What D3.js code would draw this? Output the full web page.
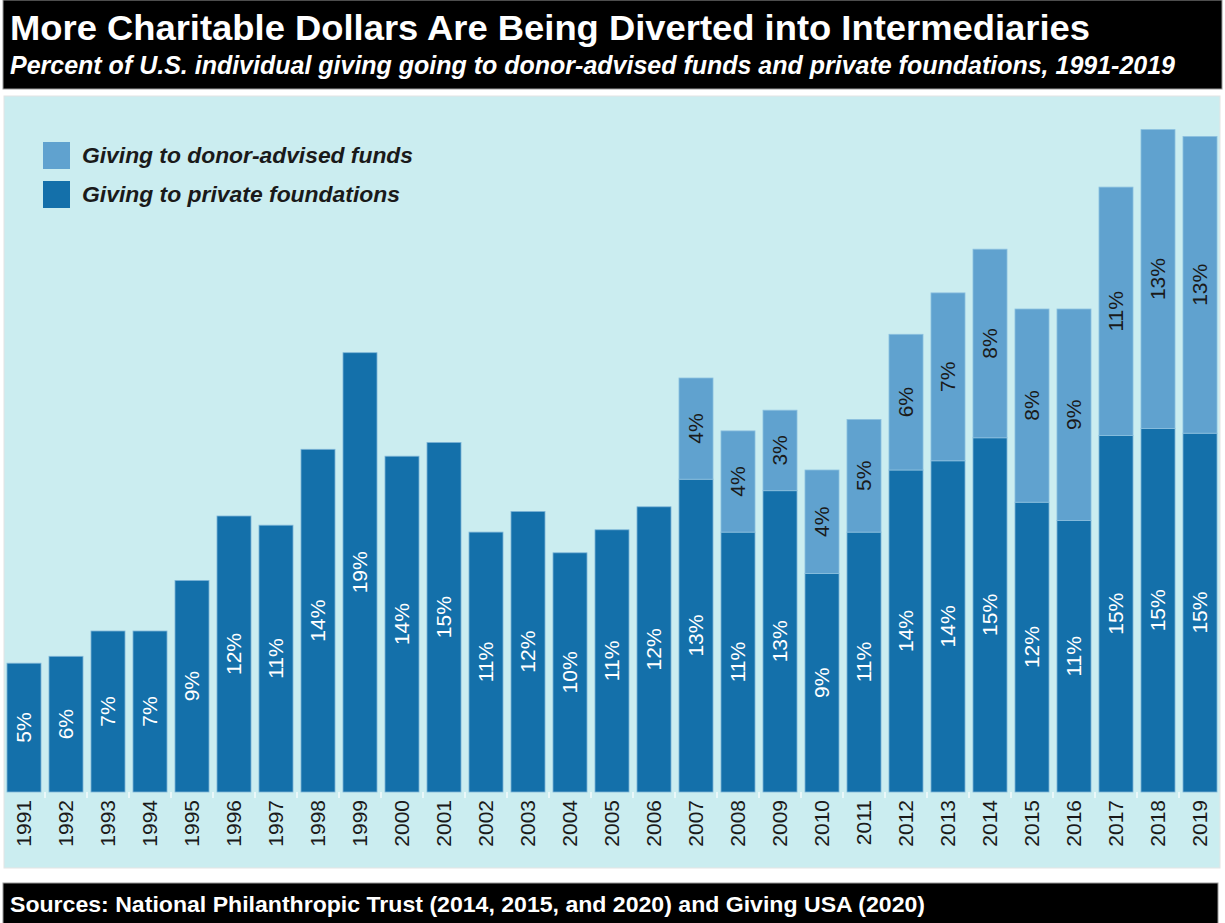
<!DOCTYPE html>
<html lang="en">
<head>
<meta charset="UTF-8">
<title>More Charitable Dollars Are Being Diverted into Intermediaries</title>
<script src="https://cdnjs.cloudflare.com/ajax/libs/d3/7.8.5/d3.min.js"></script>
<style>
  body { margin: 0; background: #fff; font-family: "Liberation Sans", Arial, sans-serif; }
  svg { display: block; }
</style>
</head>
<body>
<div id="chart"></div>
<script>
  // data (percent of individual giving)
  const years = ["1991","1992","1993","1994","1995","1996","1997","1998","1999","2000",
    "2001","2002","2003","2004","2005","2006","2007","2008","2009","2010",
    "2011","2012","2013","2014","2015","2016","2017","2018","2019"];
  const foundations = [5.6, 5.9, 7.0, 7.0, 9.2, 12.0, 11.6, 14.9, 19.1, 14.6,
    15.2, 11.3, 12.2, 10.4, 11.4, 12.4, 13.6, 11.3, 13.1, 9.5,
    11.3, 14.0, 14.4, 15.4, 12.6, 11.8, 15.5, 15.8, 15.6];
  const dafs = [0, 0, 0, 0, 0, 0, 0, 0, 0, 0,
    0, 0, 0, 0, 0, 0, 4.4, 4.4, 3.5, 4.5,
    4.9, 5.9, 7.3, 8.2, 8.4, 9.2, 10.8, 13.0, 12.9];
  const foundationLabels = ["5%","6%","7%","7%","9%","12%","11%","14%","19%","14%",
    "15%","11%","12%","10%","11%","12%","13%","11%","13%","9%",
    "11%","14%","14%","15%","12%","11%","15%","15%","15%"];
  const dafLabels = ["","","","","","","","","","",
    "","","","","","","4%","4%","3%","4%",
    "5%","6%","7%","8%","8%","9%","11%","13%","13%"];
  const seriesNames = ["Giving to donor-advised funds", "Giving to private foundations"];

  const W = 1225, H = 923;
  const colFound = "#1470aa", colDaf = "#60a2cf", panelBg = "#cbedf0";

  const svg = d3.select("#chart").append("svg")
    .attr("width", W).attr("height", H);

  // title block
  svg.append("rect").attr("x", 3).attr("y", 0).attr("width", 1219).attr("height", 89)
    .attr("fill", "#000").attr("stroke", "#999").attr("stroke-width", 1);
  svg.append("text").attr("x", 10).attr("y", 40)
    .attr("fill", "#fff").attr("font-size", 35).attr("font-weight", "bold")
    .attr("textLength", 1080).attr("lengthAdjust", "spacingAndGlyphs")
    .text("More Charitable Dollars Are Being Diverted into Intermediaries");
  svg.append("text").attr("x", 10).attr("y", 74)
    .attr("fill", "#fff").attr("font-size", 25).attr("font-weight", "bold").attr("font-style", "italic")
    .attr("textLength", 1165).attr("lengthAdjust", "spacingAndGlyphs")
    .text("Percent of U.S. individual giving going to donor-advised funds and private foundations, 1991-2019");

  // chart panel
  svg.append("rect").attr("x", 4).attr("y", 96).attr("width", 1216).attr("height", 772)
    .attr("fill", panelBg).attr("stroke", "#e4e4e4").attr("stroke-width", 1);

  const baseY = 792;
  const x = d3.scaleBand().domain(years).range([3, 1221]).paddingInner(0.19).paddingOuter(0.095);
  const y = d3.scaleLinear().domain([0, 30]).range([baseY, baseY - 690]);

  const rows = years.map((yr, i) => ({
    year: yr, pf: foundations[i], daf: dafs[i],
    pfLabel: foundationLabels[i], dafLabel: dafLabels[i]
  }));

  const g = svg.append("g");

  // private foundations (bottom segment)
  g.selectAll(".pf").data(rows).join("rect")
    .attr("class", "pf")
    .attr("x", d => x(d.year)).attr("width", x.bandwidth())
    .attr("y", d => y(d.pf)).attr("height", d => y(0) - y(d.pf))
    .attr("fill", colFound).attr("stroke", "#7fb6d8").attr("stroke-width", 0.8);

  // donor-advised funds (top segment)
  g.selectAll(".daf").data(rows.filter(d => d.daf > 0)).join("rect")
    .attr("class", "daf")
    .attr("x", d => x(d.year)).attr("width", x.bandwidth())
    .attr("y", d => y(d.pf + d.daf)).attr("height", d => y(d.pf) - y(d.pf + d.daf))
    .attr("fill", colDaf).attr("stroke", "#8cc0df").attr("stroke-width", 0.8);

  // value labels, rotated
  g.selectAll(".pfLab").data(rows).join("text")
    .attr("class", "pfLab")
    .attr("transform", d => `translate(${x(d.year) + x.bandwidth() / 2},${(y(0) + y(d.pf)) / 2}) rotate(-90)`)
    .attr("text-anchor", "middle").attr("dy", "0.35em")
    .attr("fill", "#fff").attr("font-size", 21)
    .text(d => d.pfLabel);

  g.selectAll(".dafLab").data(rows.filter(d => d.daf > 0)).join("text")
    .attr("class", "dafLab")
    .attr("transform", d => `translate(${x(d.year) + x.bandwidth() / 2},${(y(d.pf) + y(d.pf + d.daf)) / 2}) rotate(-90)`)
    .attr("text-anchor", "middle").attr("dy", "0.35em")
    .attr("fill", "#1a1a1a").attr("font-size", 21)
    .text(d => d.dafLabel);

  // x axis
  const xAxis = svg.append("g").attr("transform", `translate(0,${baseY})`)
    .call(d3.axisBottom(x).tickSize(0).tickPadding(0));
  xAxis.select(".domain").remove();
  xAxis.selectAll("text")
    .attr("transform", "translate(0,8) rotate(-90)")
    .attr("text-anchor", "end").attr("dy", "0.35em").attr("x", 0).attr("y", 0)
    .attr("fill", "#1a1a1a").attr("font-size", 21)
    .attr("font-family", "'Liberation Sans', Arial, sans-serif");

  // separator ticks between categories
  const step = x.step();
  svg.append("g").selectAll("line").data(years.slice(1)).join("line")
    .attr("x1", d => x(d) - (step - x.bandwidth()) / 2)
    .attr("x2", d => x(d) - (step - x.bandwidth()) / 2)
    .attr("y1", baseY).attr("y2", baseY + 6)
    .attr("stroke", "#f4fbfc").attr("stroke-width", 1.5);

  // legend
  const legend = svg.append("g");
  const legendColors = [colDaf, colFound];
  const legendWidths = [331, 318];
  seriesNames.forEach((name, i) => {
    const ly = 142 + i * 39;
    legend.append("rect").attr("x", 43).attr("y", ly).attr("width", 27).attr("height", 27)
      .attr("fill", legendColors[i]);
    legend.append("text").attr("x", 82).attr("y", ly + 21)
      .attr("font-size", 22).attr("font-weight", "bold").attr("font-style", "italic")
      .attr("fill", "#1a1a1a")
      .attr("textLength", legendWidths[i]).attr("lengthAdjust", "spacingAndGlyphs")
      .text(name);
  });

  // source bar
  svg.append("rect").attr("x", 3).attr("y", 883).attr("width", 1215).attr("height", 42)
    .attr("fill", "#000").attr("stroke", "#999").attr("stroke-width", 1);
  svg.append("text").attr("x", 10).attr("y", 912)
    .attr("fill", "#fff").attr("font-size", 22).attr("font-weight", "bold")
    .attr("textLength", 915).attr("lengthAdjust", "spacingAndGlyphs")
    .text("Sources: National Philanthropic Trust (2014, 2015, and 2020) and Giving USA (2020)");
</script>
</body>
</html>
